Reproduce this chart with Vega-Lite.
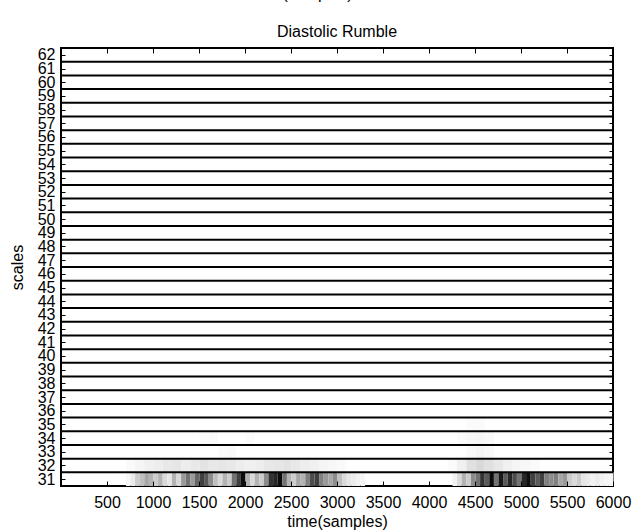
{
  "$schema": "https://vega.github.io/schema/vega-lite/v6.json",
  "width": 552,
  "height": 438,
  "autosize": {"type": "none"},
  "padding": {"left": 61, "top": 48, "right": 19, "bottom": 45},
  "background": "white",
  "title": {
    "text": "Diastolic Rumble",
    "fontSize": 16,
    "fontWeight": "normal",
    "font": "Liberation Sans",
    "color": "black",
    "offset": -55,
    "anchor": "middle"
  },
  "config": {
    "view": {"stroke": "black", "strokeWidth": 2},
    "axis": {
      "domain": false,
      "grid": false,
      "tickColor": "black",
      "tickWidth": 1,
      "labelFont": "Liberation Sans",
      "labelFontSize": 16,
      "labelColor": "black",
      "labelOverlap": false,
      "labelFlush": false,
      "labelBound": false,
      "titleFont": "Liberation Sans",
      "titleFontSize": 16,
      "titleFontWeight": "normal",
      "titleColor": "black"
    }
  },
  "datasets": {
    "fine": [
      {"s": 31, "t": 700, "v": 0.03}, {"s": 31, "t": 750, "v": 0.08}, {"s": 31, "t": 800, "v": 0.2}, {"s": 31, "t": 850, "v": 0.25},
      {"s": 31, "t": 900, "v": 0.35}, {"s": 31, "t": 950, "v": 0.3}, {"s": 31, "t": 1000, "v": 0.2}, {"s": 31, "t": 1050, "v": 0.3},
      {"s": 31, "t": 1100, "v": 0.15}, {"s": 31, "t": 1150, "v": 0.1}, {"s": 31, "t": 1200, "v": 0.3}, {"s": 31, "t": 1250, "v": 0.15},
      {"s": 31, "t": 1300, "v": 0.4}, {"s": 31, "t": 1350, "v": 0.55}, {"s": 31, "t": 1400, "v": 0.4}, {"s": 31, "t": 1450, "v": 0.6},
      {"s": 31, "t": 1500, "v": 0.75}, {"s": 31, "t": 1550, "v": 0.65}, {"s": 31, "t": 1600, "v": 0.45}, {"s": 31, "t": 1650, "v": 0.25},
      {"s": 31, "t": 1700, "v": 0.15}, {"s": 31, "t": 1750, "v": 0.3}, {"s": 31, "t": 1800, "v": 0.2}, {"s": 31, "t": 1850, "v": 0.55},
      {"s": 31, "t": 1900, "v": 0.75}, {"s": 31, "t": 1950, "v": 0.95}, {"s": 31, "t": 2000, "v": 0.3}, {"s": 31, "t": 2050, "v": 0.15},
      {"s": 31, "t": 2100, "v": 0.3}, {"s": 31, "t": 2150, "v": 0.2}, {"s": 31, "t": 2200, "v": 0.45}, {"s": 31, "t": 2250, "v": 0.8},
      {"s": 31, "t": 2300, "v": 0.85}, {"s": 31, "t": 2350, "v": 0.95}, {"s": 31, "t": 2400, "v": 0.55}, {"s": 31, "t": 2450, "v": 0.3},
      {"s": 31, "t": 2500, "v": 0.2}, {"s": 31, "t": 2550, "v": 0.35}, {"s": 31, "t": 2600, "v": 0.3}, {"s": 31, "t": 2650, "v": 0.5},
      {"s": 31, "t": 2700, "v": 0.7}, {"s": 31, "t": 2750, "v": 0.75}, {"s": 31, "t": 2800, "v": 0.5}, {"s": 31, "t": 2850, "v": 0.4},
      {"s": 31, "t": 2900, "v": 0.35}, {"s": 31, "t": 2950, "v": 0.45}, {"s": 31, "t": 3000, "v": 0.25}, {"s": 31, "t": 3050, "v": 0.15},
      {"s": 31, "t": 3100, "v": 0.1}, {"s": 31, "t": 3150, "v": 0.08}, {"s": 31, "t": 3200, "v": 0.05}, {"s": 31, "t": 3250, "v": 0.03},
      {"s": 31, "t": 4250, "v": 0.05}, {"s": 31, "t": 4300, "v": 0.15}, {"s": 31, "t": 4350, "v": 0.3}, {"s": 31, "t": 4400, "v": 0.2},
      {"s": 31, "t": 4450, "v": 0.45}, {"s": 31, "t": 4500, "v": 0.55}, {"s": 31, "t": 4550, "v": 0.8}, {"s": 31, "t": 4600, "v": 0.65},
      {"s": 31, "t": 4650, "v": 0.95}, {"s": 31, "t": 4700, "v": 0.55}, {"s": 31, "t": 4750, "v": 0.9}, {"s": 31, "t": 4800, "v": 0.65},
      {"s": 31, "t": 4850, "v": 0.85}, {"s": 31, "t": 4900, "v": 0.7}, {"s": 31, "t": 4950, "v": 0.55}, {"s": 31, "t": 5000, "v": 0.85},
      {"s": 31, "t": 5050, "v": 0.95}, {"s": 31, "t": 5100, "v": 0.75}, {"s": 31, "t": 5150, "v": 0.65}, {"s": 31, "t": 5200, "v": 0.75},
      {"s": 31, "t": 5250, "v": 0.5}, {"s": 31, "t": 5300, "v": 0.45}, {"s": 31, "t": 5350, "v": 0.5}, {"s": 31, "t": 5400, "v": 0.35},
      {"s": 31, "t": 5450, "v": 0.4}, {"s": 31, "t": 5500, "v": 0.2}, {"s": 31, "t": 5550, "v": 0.15}, {"s": 31, "t": 5600, "v": 0.2},
      {"s": 31, "t": 5650, "v": 0.1}, {"s": 31, "t": 5700, "v": 0.08}, {"s": 31, "t": 5750, "v": 0.05}, {"s": 31, "t": 5800, "v": 0.08},
      {"s": 31, "t": 5850, "v": 0.05}, {"s": 31, "t": 5900, "v": 0.04}, {"s": 31, "t": 5950, "v": 0.03}
    ],
    "coarse": [
      {"s": 32, "t": 700, "v": 0.02}, {"s": 32, "t": 800, "v": 0.04}, {"s": 32, "t": 900, "v": 0.06}, {"s": 32, "t": 1000, "v": 0.07},
      {"s": 32, "t": 1100, "v": 0.09}, {"s": 32, "t": 1200, "v": 0.1}, {"s": 32, "t": 1300, "v": 0.07}, {"s": 32, "t": 1400, "v": 0.09},
      {"s": 32, "t": 1500, "v": 0.11}, {"s": 32, "t": 1600, "v": 0.09}, {"s": 32, "t": 1700, "v": 0.1}, {"s": 32, "t": 1800, "v": 0.09},
      {"s": 32, "t": 1900, "v": 0.07}, {"s": 32, "t": 2000, "v": 0.06}, {"s": 32, "t": 2100, "v": 0.07}, {"s": 32, "t": 2200, "v": 0.09},
      {"s": 32, "t": 2300, "v": 0.1}, {"s": 32, "t": 2400, "v": 0.11}, {"s": 32, "t": 2500, "v": 0.09}, {"s": 32, "t": 2600, "v": 0.07},
      {"s": 32, "t": 2700, "v": 0.06}, {"s": 32, "t": 2800, "v": 0.04}, {"s": 32, "t": 2900, "v": 0.03}, {"s": 32, "t": 3000, "v": 0.02},
      {"s": 32, "t": 4200, "v": 0.02}, {"s": 32, "t": 4300, "v": 0.06}, {"s": 32, "t": 4400, "v": 0.12}, {"s": 32, "t": 4500, "v": 0.15},
      {"s": 32, "t": 4600, "v": 0.12}, {"s": 32, "t": 4700, "v": 0.09}, {"s": 32, "t": 4800, "v": 0.06}, {"s": 32, "t": 4900, "v": 0.04},
      {"s": 32, "t": 5000, "v": 0.03}, {"s": 32, "t": 5100, "v": 0.02},
      {"s": 33, "t": 1700, "v": 0.015}, {"s": 33, "t": 1800, "v": 0.02}, {"s": 33, "t": 4400, "v": 0.025}, {"s": 33, "t": 4500, "v": 0.04},
      {"s": 33, "t": 4600, "v": 0.025},
      {"s": 34, "t": 1500, "v": 0.015}, {"s": 34, "t": 1600, "v": 0.02}, {"s": 34, "t": 2000, "v": 0.015}, {"s": 34, "t": 4300, "v": 0.02},
      {"s": 34, "t": 4400, "v": 0.03}, {"s": 34, "t": 4500, "v": 0.035}, {"s": 34, "t": 4600, "v": 0.025},
      {"s": 35, "t": 4400, "v": 0.015}, {"s": 35, "t": 4500, "v": 0.015}
    ],
    "bounds": [
      {"b": 31.5}, {"b": 32.5}, {"b": 33.5}, {"b": 34.5}, {"b": 35.5}, {"b": 36.5}, {"b": 37.5}, {"b": 38.5},
      {"b": 39.5}, {"b": 40.5}, {"b": 41.5}, {"b": 42.5}, {"b": 43.5}, {"b": 44.5}, {"b": 45.5}, {"b": 46.5},
      {"b": 47.5}, {"b": 48.5}, {"b": 49.5}, {"b": 50.5}, {"b": 51.5}, {"b": 52.5}, {"b": 53.5}, {"b": 54.5},
      {"b": 55.5}, {"b": 56.5}, {"b": 57.5}, {"b": 58.5}, {"b": 59.5}, {"b": 60.5}, {"b": 61.5}
    ]
  },
  "layer": [
    {
      "data": {"name": "fine"},
      "mark": {"type": "rect"},
      "encoding": {
        "x": {"field": "t", "type": "quantitative", "bin": {"binned": true, "step": 50},
              "scale": {"domain": [0, 6000], "nice": false, "zero": false},
              "axis": {"orient": "bottom", "values": [500,1000,1500,2000,2500,3000,3500,4000,4500,5000,5500,6000],
                       "tickSize": -5, "labelPadding": 13, "title": "time(samples)", "titlePadding": 3, "format": "d"}},
        "y": {"field": "s", "type": "ordinal",
              "scale": {"domain": [62,61,60,59,58,57,56,55,54,53,52,51,50,49,48,47,46,45,44,43,42,41,40,39,38,37,36,35,34,33,32,31], "paddingInner": 0, "paddingOuter": 0},
              "axis": null},
        "color": {"field": "v", "type": "quantitative", "scale": {"domain": [0, 1], "range": ["#ffffff", "#000000"], "interpolate": "rgb"}, "legend": null}
      }
    },
    {
      "data": {"name": "coarse"},
      "mark": {"type": "rect"},
      "encoding": {
        "x": {"field": "t", "type": "quantitative", "bin": {"binned": true, "step": 100},
              "scale": {"domain": [0, 6000], "nice": false, "zero": false}, "axis": null},
        "y": {"field": "s", "type": "ordinal",
              "scale": {"domain": [62,61,60,59,58,57,56,55,54,53,52,51,50,49,48,47,46,45,44,43,42,41,40,39,38,37,36,35,34,33,32,31], "paddingInner": 0, "paddingOuter": 0},
              "axis": null},
        "color": {"field": "v", "type": "quantitative", "scale": {"domain": [0, 1], "range": ["#ffffff", "#000000"], "interpolate": "rgb"}, "legend": null}
      }
    },
    {
      "data": {"name": "bounds"},
      "mark": {"type": "rule", "color": "black", "strokeWidth": 2},
      "encoding": {
        "y": {"field": "b", "type": "quantitative",
              "scale": {"domain": [30.5, 62.5], "nice": false, "zero": false},
              "axis": {"orient": "left", "values": [31,32,33,34,35,36,37,38,39,40,41,42,43,44,45,46,47,48,49,50,51,52,53,54,55,56,57,58,59,60,61,62],
                       "tickSize": -4, "labelPadding": 10, "title": "scales", "titlePadding": 12, "format": "d"}}
      }
    },
    {
      "data": {"name": "fine"},
      "mark": {"type": "point", "opacity": 0},
      "encoding": {
        "x": {"field": "t", "type": "quantitative",
              "scale": {"domain": [0, 6000], "nice": false, "zero": false},
              "axis": {"orient": "top", "values": [500,1000,1500,2000,2500,3000,3500,4000,4500,5000,5500,6000],
                       "tickSize": -5, "labels": false, "title": "(samples)",
                       "titleX": 256, "titleY": -50, "titleAlign": "center", "titleBaseline": "alphabetic", "titleAngle": 0}},
        "y": {"field": "s", "type": "quantitative",
              "scale": {"domain": [30.5, 62.5], "nice": false, "zero": false},
              "axis": {"orient": "right", "values": [31,32,33,34,35,36,37,38,39,40,41,42,43,44,45,46,47,48,49,50,51,52,53,54,55,56,57,58,59,60,61,62],
                       "tickSize": -4, "labels": false, "title": null}}
      }
    }
  ],
  "resolve": {"scale": {"x": "independent", "y": "independent"}, "axis": {"x": "independent", "y": "independent"}}
}
